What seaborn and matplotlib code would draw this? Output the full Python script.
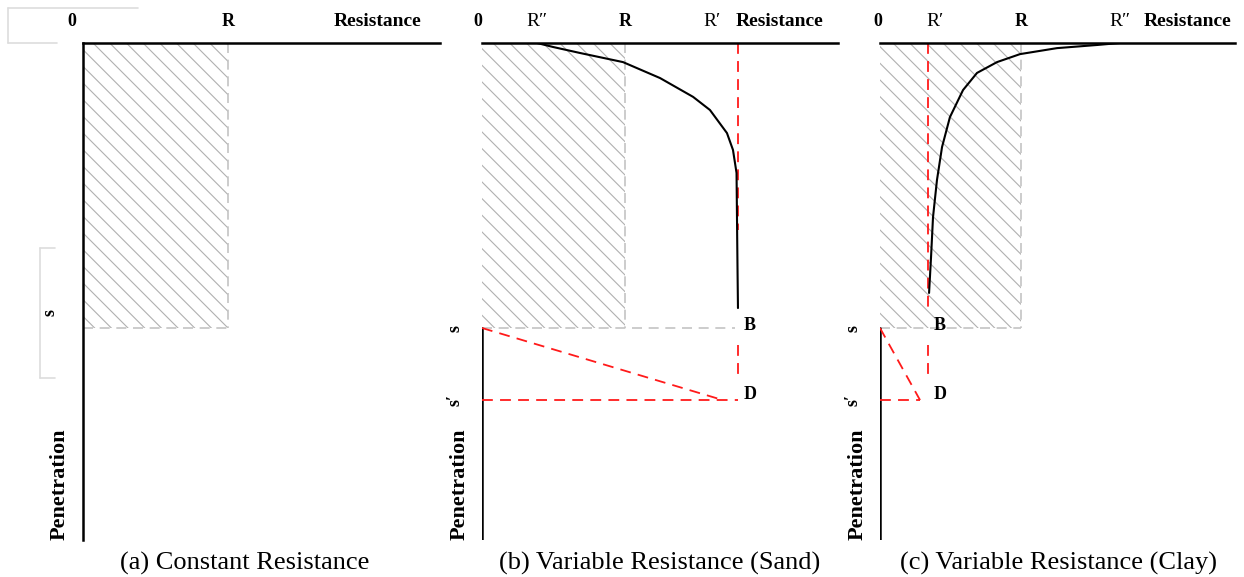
# Sketch of pile penetration vs. resistance for three soil cases
import pandas as pd
import matplotlib.pyplot as plt
import seaborn as sns

# Values in units of R (resistance) and s (penetration)
R = 1.0
S = 1.0
S_PRIME = 1.253

# (b) sand: resistance grows from R'' toward R'
sand_r2 = 0.385
sand_r1 = 1.79
sand_x = [0.385, 0.497, 0.685, 0.986, 1.245, 1.476, 1.594, 1.713, 1.755, 1.780, 1.784, 1.787, 1.790]
sand_y = [0.0, 0.014, 0.035, 0.067, 0.123, 0.189, 0.235, 0.316, 0.375, 0.456, 0.656, 0.80, 0.930]
sand_d_x = 1.685

# (c) clay: resistance drops from R'' toward R'
clay_r1 = 0.34
clay_r2 = 1.70
clay_x = [1.70, 1.539, 1.255, 0.993, 0.830, 0.688, 0.589, 0.496, 0.440, 0.404, 0.376, 0.362, 0.348]
clay_y = [0.0, 0.007, 0.018, 0.039, 0.067, 0.105, 0.165, 0.260, 0.365, 0.481, 0.611, 0.751, 0.877]
clay_d_x = 0.284

captions = ["(a) Constant Resistance", "(b) Variable Resistance (Sand)", "(c) Variable Resistance (Clay)"]

sns.set_theme(style="white")
plt.rcParams["font.family"] = ["Liberation Serif", "DejaVu Serif"]
plt.rcParams["text.color"] = "black"
plt.rcParams["hatch.linewidth"] = 0.8

W, H = 1244, 577
fig = plt.figure(figsize=(W / 100, H / 100), dpi=100)

# panel frames in pixels: left edge, width, pixels per R
panels = [(83, 357, 145), (482, 356, 143), (880, 355, 141)]
top_px, bottom_px, s_px = 43, 540, 285
y_max = (bottom_px - top_px) / s_px

HATCH = "#b0b0b0"
GRID = "#c4c4c4"
RED = "#ff1a1a"
dash = (0, (6, 4))

axes = []
for left, width, rpx in panels:
    ax = fig.add_axes([left / W, 1 - bottom_px / H, width / W, (bottom_px - top_px) / H])
    ax.set_xlim(0, width / rpx)
    ax.set_ylim(y_max, 0)
    ax.set_xticks([])
    ax.set_yticks([])
    for side in ["bottom", "right", "left"]:
        ax.spines[side].set_visible(False)
    ax.spines["top"].set_color("black")
    ax.spines["top"].set_linewidth(1.8)
    ax.patch.set_alpha(0)
    axes.append(ax)


def header(ax, zero_x, res_x):
    hy = -0.074
    ax.text(zero_x, hy, "0", ha="center", va="center", fontsize=13, fontweight="bold", clip_on=False)
    ax.text(R, hy, "R", ha="center", va="center", fontsize=13, fontweight="bold", clip_on=False)
    ax.text(res_x, hy, "Resistance", ha="center", va="center", fontsize=14, fontweight="bold", clip_on=False)


def block(ax, gray_to):
    # constant resistance area R x s
    ax.fill_between([0, R], 0, S, facecolor="none", hatch="\\\\", edgecolor=HATCH, linewidth=0)
    ax.plot([R, R], [0, S], color=GRID, lw=1.2, ls=dash)
    ax.plot([0, gray_to], [S, S], color=GRID, lw=1.2, ls=dash)


def side_labels(ax, sx, px, s_y=S, two=True):
    ax.text(sx, s_y, "s", rotation=90, ha="center", va="center", fontsize=13, fontweight="bold", clip_on=False)
    if two:
        ax.text(sx, S_PRIME, "s\u2032", rotation=90, ha="center", va="center", fontsize=13,
                fontweight="bold", clip_on=False)
    ax.text(px, 1.55, "Penetration", rotation=90, ha="center", va="center", fontsize=16,
            fontweight="bold", clip_on=False)


# (a) constant resistance
ax = axes[0]
ax.spines["left"].set_visible(True)
ax.spines["left"].set_color("black")
ax.spines["left"].set_linewidth(1.8)
block(ax, R)
header(ax, -0.076, 2.03)
side_labels(ax, -0.228, -0.16, s_y=0.947, two=False)
# faint text-box remnants
faint = dict(color="#dddddd", lw=1.2, clip_on=False)
ax.plot([-0.297, -0.193], [0.72, 0.72], **faint)
ax.plot([-0.297, -0.297], [0.72, 1.175], **faint)
ax.plot([-0.297, -0.193], [1.175, 1.175], **faint)
ax.plot([-0.517, 0.379], [-0.123, -0.123], **faint)
ax.plot([-0.517, -0.517], [-0.123, 0.0], **faint)
ax.plot([-0.517, -0.179], [0.0, 0.0], **faint)

# (b) sand and (c) clay
cases = [
    (axes[1], sand_x, sand_y, sand_r1, sand_r2, sand_d_x, sand_r1, 0.656, 1.77, -0.03, 2.08, 1.874, 1.61),
    (axes[2], clay_x, clay_y, clay_r1, clay_r2, clay_d_x, clay_d_x, 0.937, R, -0.014, 2.18, 0.426, 0.39),
]
for ax, cx, cy, r1, r2, dx, h_end, red_end, gray_to, zero_x, res_x, lab_x, r1_lab in cases:
    block(ax, gray_to)
    ax.plot([0, 0], [S, y_max], color="black", lw=1.8)
    ax.plot([r1, r1], [0, red_end], color=RED, lw=1.3, ls=dash)
    ax.plot([r1, r1], [1.06, 1.175], color=RED, lw=1.3, ls=dash)
    ax.plot([0, dx], [S, S_PRIME], color=RED, lw=1.3, ls=dash)
    ax.plot([0, h_end], [S_PRIME, S_PRIME], color=RED, lw=1.3, ls=dash)
    curve = pd.DataFrame({"x": cx, "y": cy})
    sns.lineplot(data=curve, x="x", y="y", ax=ax, color="black", lw=1.5, sort=False, estimator=None)
    ax.set_xlabel("")
    ax.set_ylabel("")
    header(ax, zero_x, res_x)
    hy = -0.074
    ax.text(r2, hy, "R\u2033", ha="center", va="center", fontsize=14, clip_on=False)
    ax.text(r1_lab, hy, "R\u2032", ha="center", va="center", fontsize=14, clip_on=False)
    ax.text(lab_x, 0.99, "B", ha="center", va="center", fontsize=13, fontweight="bold", clip_on=False)
    ax.text(lab_x, 1.235, "D", ha="center", va="center", fontsize=13, fontweight="bold", clip_on=False)
    side_labels(ax, -0.19, -0.16)

for xc, cap in zip([245, 660, 1058], captions):
    fig.text(xc / W, 1 - 563 / H, cap, ha="center", va="center", fontsize=19)

fig.savefig("out.png", dpi=100)
